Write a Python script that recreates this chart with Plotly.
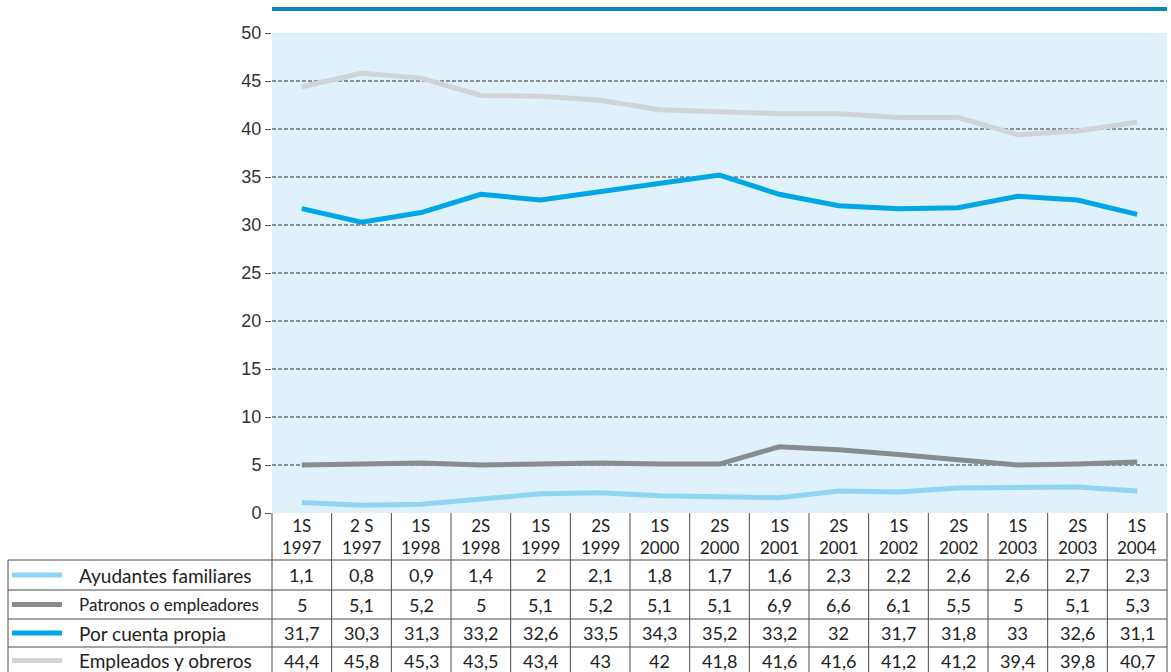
import plotly.graph_objects as go

W, H = 1171, 672

categories = ["1S<br>1997", "2 S<br>1997", "1S<br>1998", "2S<br>1998", "1S<br>1999", "2S<br>1999",
              "1S<br>2000", "2S<br>2000", "1S<br>2001", "2S<br>2001", "1S<br>2002", "2S<br>2002",
              "1S<br>2003", "2S<br>2003", "1S<br>2004"]

ayudantes = [1.1, 0.8, 0.9, 1.4, 2, 2.1, 1.8, 1.7, 1.6, 2.3, 2.2, 2.6, 2.6, 2.7, 2.3]
patronos = [5, 5.1, 5.2, 5, 5.1, 5.2, 5.1, 5.1, 6.9, 6.6, 6.1, 5.5, 5, 5.1, 5.3]
cuenta_propia = [31.7, 30.3, 31.3, 33.2, 32.6, 33.5, 34.3, 35.2, 33.2, 32, 31.7, 31.8, 33, 32.6, 31.1]
empleados = [44.4, 45.8, 45.3, 43.5, 43.4, 43, 42, 41.8, 41.6, 41.6, 41.2, 41.2, 39.4, 39.8, 40.7]

series_names = ["Ayudantes familiares", "Patronos o empleadores", "Por cuenta propia", "Empleados y obreros"]
series_values = [ayudantes, patronos, cuenta_propia, empleados]
series_colors = ["#8ED5F5", "#8A8B8D", "#00A6E6", "#D2D3D5"]

y_ticks = list(range(0, 55, 5))

# layout geometry (pixels)
PL, PR = 272, 1167
PT, PB = 33, 513
ROW_Y = [560, 590, 619, 647, 675]
TABLE_LEFT = 8
FONT = "Lato"
TXT = "#222222"
GRID_LINE = "#4a4a4a"

def px(x):
    return x / W

def py(y):
    return 1 - y / H

n = len(categories)
xs = list(range(n))
colw = (PR - PL) / n

fig = go.Figure()

for name, vals, col in reversed(list(zip(series_names, series_values, series_colors))):
    fig.add_trace(go.Scatter(x=xs, y=vals, mode="lines", name=name,
                             line=dict(color=col, width=5), showlegend=False,
                             hoverinfo="skip"))

shapes = []
annotations = []

for t in y_ticks:
    if 0 < t < 50:
        shapes.append(dict(type="line", xref="paper", yref="y", x0=px(PL), x1=px(PR), y0=t, y1=t,
                           line=dict(color="#333333", width=1, dash="4px,2px"), layer="below"))

shapes.append(dict(type="rect", xref="paper", yref="paper", x0=px(PL), x1=px(PR),
                   y0=py(11), y1=py(7), fillcolor="#0A86BF", line=dict(width=0)))

for i in range(n + 1):
    x = PL + i * colw
    shapes.append(dict(type="line", xref="paper", yref="paper", x0=px(x), x1=px(x),
                       y0=py(PB), y1=py(H + 2), line=dict(color=GRID_LINE, width=1)))
shapes.append(dict(type="line", xref="paper", yref="paper", x0=px(TABLE_LEFT), x1=px(TABLE_LEFT),
                   y0=py(ROW_Y[0]), y1=py(H + 2), line=dict(color=GRID_LINE, width=1)))
for yrow in ROW_Y[:-1]:
    shapes.append(dict(type="line", xref="paper", yref="paper", x0=px(TABLE_LEFT), x1=px(PR),
                       y0=py(yrow), y1=py(yrow), line=dict(color=GRID_LINE, width=1)))

for i, c in enumerate(categories):
    cx = PL + (i + 0.5) * colw
    annotations.append(dict(xref="paper", yref="paper", x=px(cx), y=py((PB + ROW_Y[0]) / 2),
                            text=c, showarrow=False, xanchor="center", yanchor="middle",
                            font=dict(family=FONT, size=17, color=TXT)))

def fmt(v):
    if float(v) == int(v):
        return str(int(v))
    return str(v).replace(".", ",")

for r, (name, vals, col) in enumerate(zip(series_names, series_values, series_colors)):
    ytop = ROW_Y[r]
    ybot = min(ROW_Y[r + 1], H)
    yc = (ytop + ybot) / 2 + (1 if r == 3 else 0)
    label_size = 17 if len(name) > 21 else 19
    shapes.append(dict(type="line", xref="paper", yref="paper", x0=px(12), x1=px(62),
                       y0=py(yc), y1=py(yc), line=dict(color=col, width=5)))
    annotations.append(dict(xref="paper", yref="paper", x=px(77), y=py(yc), text=name,
                            showarrow=False, xanchor="left", yanchor="middle",
                            font=dict(family=FONT, size=label_size, color=TXT)))
    for i, v in enumerate(vals):
        cx = PL + (i + 0.5) * colw
        annotations.append(dict(xref="paper", yref="paper", x=px(cx), y=py(yc), text=fmt(v),
                                showarrow=False, xanchor="center", yanchor="middle",
                                font=dict(family=FONT, size=18, color=TXT)))

fig.update_layout(
    width=W, height=H,
    margin=dict(l=0, r=0, t=0, b=0, autoexpand=False),
    paper_bgcolor="white",
    plot_bgcolor="#DFF1FB",
    shapes=shapes,
    annotations=annotations,
    xaxis=dict(domain=[px(PL), px(PR)], range=[-0.5, n - 0.5], showgrid=False, automargin=False,
               showticklabels=False, zeroline=False, showline=False, ticks=""),
    yaxis=dict(domain=[py(PB), py(PT)], range=[0, 50], tickvals=y_ticks, showgrid=False,
               automargin=False, zeroline=False, showline=False, ticks="outside", ticklen=6,
               tickcolor="#555", tickfont=dict(family="Liberation Sans", size=18, color="#333")),
)

fig.write_html("out.html", config={"displayModeBar": False},
               post_script="document.body.style.margin='0';document.body.style.padding='0';"
                           "document.body.style.overflow='hidden';"
                           "document.documentElement.style.overflow='hidden';")
